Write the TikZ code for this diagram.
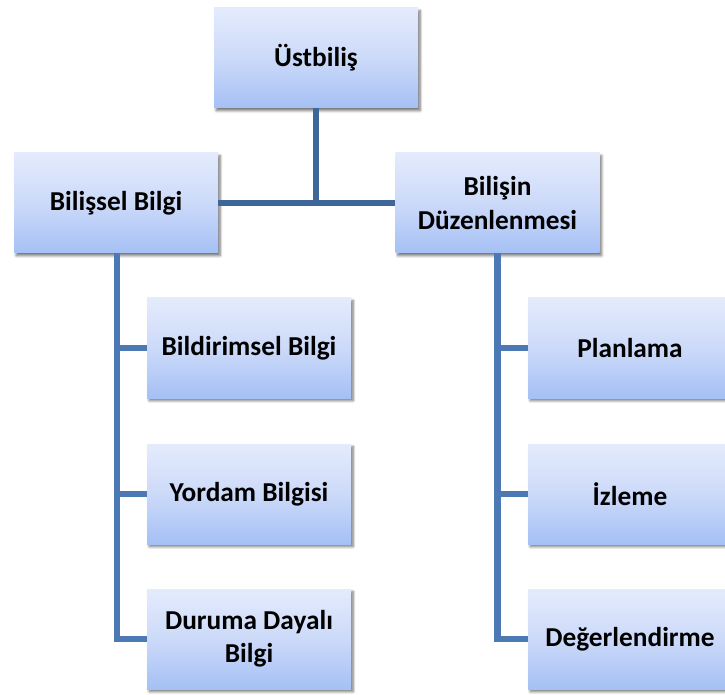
\documentclass[tikz,border=0pt]{standalone}
\usepackage{fontspec}
\setmainfont{Carlito}
\usetikzlibrary{shadows.blur}
\definecolor{boxtop}{HTML}{E4EBFC}
\definecolor{boxmid}{HTML}{CCDAF9}
\definecolor{boxbot}{HTML}{A5C0F5}
\definecolor{linkdark}{HTML}{3D6699}
\definecolor{linkblue}{HTML}{4C79B4}
\tikzset{
  card/.style={rectangle, minimum width=153pt, minimum height=75pt,
    inner sep=2pt, align=center, font=\bfseries\fontsize{20.5}{25}\selectfont,
    top color=boxtop, bottom color=boxbot, middle color=boxmid,
    blur shadow={shadow xshift=1.6pt, shadow yshift=-2pt,
      shadow blur steps=6, shadow blur extra rounding=0pt, shadow opacity=55}},
  trunk/.style={draw=linkdark, line width=4.6pt},
  branch/.style={draw=linkblue, line width=4.6pt}
}
\begin{document}
\begin{tikzpicture}[x=0.75pt,y=-0.75pt]
  \useasboundingbox (0,0) rectangle (725,695);
  \clip (0,0) rectangle (725,695);

  % top level and its two parts
  \node[card] (ust) at (316,58) {Üstbiliş};
  \node[card] (bs) at (116,203) {Bilişsel Bilgi};
  \node[card] (bd) at (497.5,203) {Bilişin\\Düzenlenmesi};

  % knowledge of cognition
  \node[card] (l1) at (249,348) {Bildirimsel Bilgi};
  \node[card] (l2) at (249,494) {Yordam Bilgisi};
  \node[card] (l3) at (249,639) {Duruma Dayalı\\Bilgi};

  % regulation of cognition
  \node[card] (r1) at (630,348) {Planlama};
  \node[card] (r2) at (630,494) {İzleme};
  \node[card] (r3) at (630,639) {Değerlendirme};

  % top tree
  \draw[trunk] (ust.south) -- (ust.south |- bs.east);
  \draw[trunk] (bs.east) -- (bd.west);

  % left branch
  \draw[branch, line join=miter] ([xshift=0.75pt]bs.south) -- ([xshift=0.75pt]bs.south |- l3.west) -- (l3.west);
  \draw[branch] ([xshift=0.75pt]bs.south |- l1.west) -- (l1.west);
  \draw[branch] ([xshift=0.75pt]bs.south |- l2.west) -- (l2.west);

  % right branch
  \draw[branch, line join=miter] (bd.south) -- (bd.south |- r3.west) -- (r3.west);
  \draw[branch] (bd.south |- r1.west) -- (r1.west);
  \draw[branch] (bd.south |- r2.west) -- (r2.west);
\end{tikzpicture}
\end{document}
